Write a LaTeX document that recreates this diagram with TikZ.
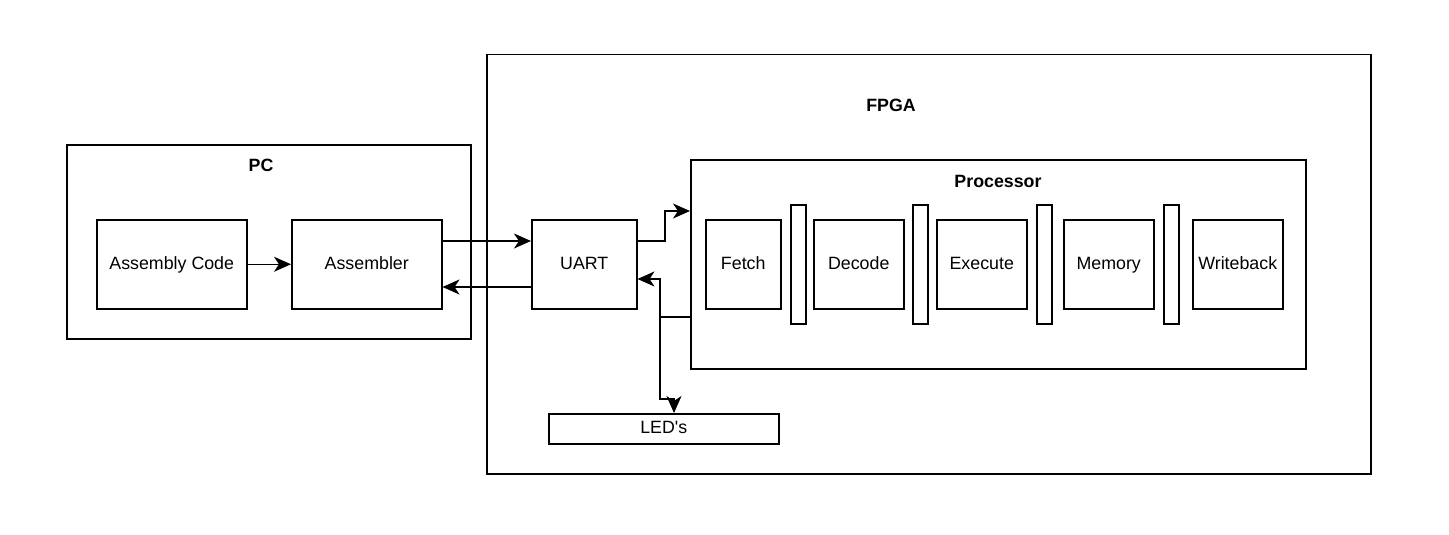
\documentclass[tikz,border=0pt]{standalone}
\usepackage{fontspec}
\setmainfont{Liberation Sans}
\usetikzlibrary{arrows.meta}
\begin{document}
\begin{tikzpicture}[x=1pt,y=-1pt,
  box/.style={draw,line width=1.5pt,anchor=north west,inner sep=0pt,font=\fontsize{17.8}{20}\selectfont,fill=white,text height=12.8pt,text depth=2.6pt},
  lbl/.style={font=\fontsize{17.8}{20}\selectfont\bfseries,inner sep=0pt},
  arr/.style={line width=1.5pt,-{Stealth[length=17pt,width=15pt,inset=5pt]}},
  ln/.style={line width=1.5pt}]
\useasboundingbox (0,0) rectangle (1449,535);
% containers
\node[box,minimum width=404pt,minimum height=194pt] (pc) at (66,144) {};
\node[lbl] (pclbl) at (261,165) {PC};
\node[box,minimum width=884pt,minimum height=419pt] (fpga) at (486,54) {};
\node[lbl] (fpgalbl) at (891,105) {FPGA};
\node[box,minimum width=615pt,minimum height=209pt] (proc) at (690,159) {};
\node[lbl] (proclbl) at (998,181) {Processor};
% PC nodes
\node[box,minimum width=150pt,minimum height=89pt] (code) at (96,219) {Assembly Code};
\node[box,minimum width=150pt,minimum height=89pt] (asm) at (291,219) {Assembler};
% FPGA nodes
\node[box,minimum width=105pt,minimum height=89pt] (uart) at (531,219) {UART};
\node[box,minimum width=230pt,minimum height=30pt] (led) at (548,413) {LED\textquotesingle s};
% pipeline
\node[box,minimum width=75pt,minimum height=89pt] (fetch) at (705,219) {Fetch};
\node[box,minimum width=15pt,minimum height=119pt] (b1) at (790,204) {};
\node[box,minimum width=90pt,minimum height=89pt] (decode) at (813,219) {Decode};
\node[box,minimum width=15pt,minimum height=119pt] (b2) at (912,204) {};
\node[box,minimum width=90pt,minimum height=89pt] (exec) at (936,219) {Execute};
\node[box,minimum width=15pt,minimum height=119pt] (b3) at (1036,204) {};
\node[box,minimum width=90pt,minimum height=89pt] (mem) at (1063,219) {Memory};
\node[box,minimum width=15pt,minimum height=119pt] (b4) at (1163,204) {};
\node[box,minimum width=90pt,minimum height=89pt] (wb) at (1192,219) {Writeback};
% helper coordinates
\coordinate (ya) at (0,241);
\coordinate (yb) at (0,287);
\coordinate (yc) at (0,211);
\coordinate (yd) at (0,317);
\coordinate (ye) at (0,279);
\coordinate (yf) at (0,399);
\coordinate (xa) at (665,0);
\coordinate (xb) at (660,0);
\coordinate (xc) at (674,0);
\coordinate (j) at (660,317);
% connectors
\draw[arr] (code) -- (asm);
\draw[arr] (asm.east |- ya) -- (uart.west |- ya);
\draw[arr] (uart.west |- yb) -- (asm.east |- yb);
\draw[arr] (uart.east |- ya) -| (xa |- yc) -- (proc.west |- yc);
\draw[ln] (proc.west |- yd) -- (j);
\draw[arr] (j) |- (uart.east |- ye);
\draw[arr] (j) -- (xb |- yf) -| (led.north -| xc);
\end{tikzpicture}
\end{document}
